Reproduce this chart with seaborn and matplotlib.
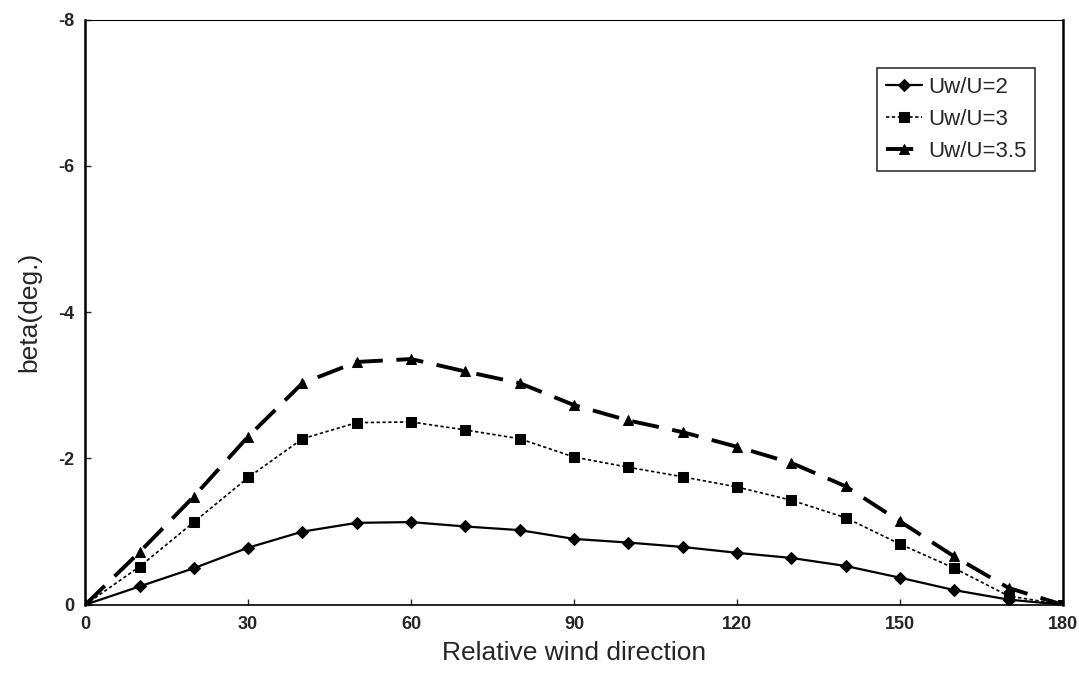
import matplotlib
matplotlib.use("Agg")
import matplotlib.pyplot as plt
import seaborn as sns
import pandas as pd

angles = [0, 10, 20, 30, 40, 50, 60, 70, 80, 90, 100, 110, 120, 130, 140, 150, 160, 170, 180]
beta_uw2 = [0, -0.25, -0.50, -0.78, -1.00, -1.12, -1.13, -1.07, -1.02, -0.90, -0.85, -0.79, -0.71, -0.64, -0.53, -0.37, -0.20, -0.07, 0]
beta_uw3 = [0, -0.52, -1.13, -1.74, -2.27, -2.49, -2.50, -2.39, -2.27, -2.02, -1.88, -1.75, -1.61, -1.43, -1.19, -0.83, -0.50, -0.12, 0]
beta_uw35 = [0, -0.72, -1.48, -2.30, -3.03, -3.32, -3.36, -3.19, -3.03, -2.73, -2.52, -2.36, -2.16, -1.94, -1.62, -1.14, -0.66, -0.23, 0]
labels = ["Uw/U=2", "Uw/U=3", "Uw/U=3.5"]
xticks = [0, 30, 60, 90, 120, 150, 180]
yticks = [0, -2, -4, -6, -8]

sns.set_style("ticks")
plt.rcParams['font.family'] = ['Liberation Sans', 'DejaVu Sans']
plt.rcParams['axes.unicode_minus'] = False

fig = plt.figure(figsize=(10.79, 6.81), dpi=100)
ax = fig.add_axes([0.079, 0.112, 0.906, 0.859])

styles = [
    dict(marker="D", linestyle="-", linewidth=1.6, markersize=6),
    dict(marker="s", linestyle=(0, (2, 1.5)), linewidth=1.2, markersize=7),
    dict(marker="^", linestyle=(0, (7, 3.5)), linewidth=2.8, markersize=7),
]
for vals, lab, st in zip([beta_uw2, beta_uw3, beta_uw35], labels, styles):
    df = pd.DataFrame({"angle": angles, "beta": vals})
    sns.lineplot(data=df, x="angle", y="beta", ax=ax, color="black", label=lab,
                 markeredgecolor="black", markerfacecolor="black", **st)

ax.set_xlim(0, 180)
ax.set_ylim(0, -8)
ax.set_xticks(xticks)
ax.set_yticks(yticks)
ax.set_xticklabels([str(t) for t in xticks], fontsize=13, fontweight="bold")
ax.set_yticklabels([str(t) for t in yticks], fontsize=13, fontweight="bold")
ax.tick_params(direction="in", length=4, width=1, pad=8)
ax.set_xlabel("Relative wind direction", fontsize=19, labelpad=6)
ax.set_ylabel("beta(deg.)", fontsize=19, labelpad=12)
for s in ["left", "right", "top", "bottom"]:
    ax.spines[s].set_visible(True)
    ax.spines[s].set_color("black")
ax.spines["left"].set_linewidth(1.8)
ax.spines["right"].set_linewidth(1.8)
ax.spines["bottom"].set_linewidth(1.2)
ax.spines["top"].set_linewidth(0.8)

leg = ax.legend(loc="upper right", bbox_to_anchor=(0.972, 0.918), fontsize=16, frameon=True,
                fancybox=False, edgecolor="black", handlelength=1.6, borderpad=0.4,
                labelspacing=0.5, handletextpad=0.3, borderaxespad=0)
leg.get_frame().set_linewidth(1.2)

fig.savefig("out.png", dpi=100)
